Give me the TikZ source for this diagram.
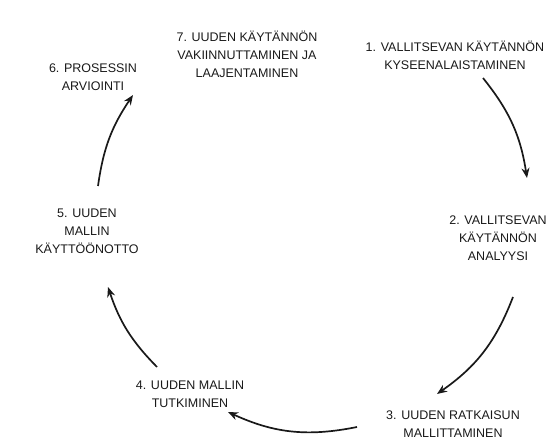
\documentclass[tikz,border=0pt]{standalone}
\usepackage{fontspec}
\setmainfont{Liberation Sans}
\usetikzlibrary{arrows.meta}
\colorlet{myink}{black!90}

\begin{document}
\begin{tikzpicture}[x=1pt,y=-1pt]
\useasboundingbox (0,0) rectangle (558,441);
\tikzset{StepStyle/.style={align=center,inner sep=0,text=myink,font=\fontsize{12.5}{18}\selectfont}}
\tikzset{CycleStyle/.style={color=myink,line width=1.7pt,-{Stealth[length=10pt,width=8pt]}}}
\node[StepStyle] (s1) at (455,55) {1. VALLITSEVAN KÄYTÄNNÖN\\KYSEENALAISTAMINEN};
\node[StepStyle] (s2) at (498,238) {2. VALLITSEVAN\\KÄYTÄNNÖN\\ANALYYSI};
\node[StepStyle] (s3) at (453,424) {3. UUDEN RATKAISUN\\MALLITTAMINEN};
\node[StepStyle] (s4) at (190,394) {4. UUDEN MALLIN\\TUTKIMINEN};
\node[StepStyle] (s5) at (87,231) {5. UUDEN\\MALLIN\\KÄYTTÖÖNOTTO};
\node[StepStyle] (s6) at (93,77) {6. PROSESSIN\\ARVIOINTI};
\node[StepStyle] (s7) at (247,54) {7. UUDEN KÄYTÄNNÖN\\VAKIINNUTTAMINEN JA\\LAAJENTAMINEN};
% arrow ends round the cycle
\coordinate (a1) at (483,78);
\coordinate (b1) at (527,178);
\coordinate (a2) at (513,297);
\coordinate (b2) at (437,394);
\coordinate (a3) at (357,427);
\coordinate (b3) at (228,412);
\coordinate (a4) at (157,367);
\coordinate (b4) at (108,287);
\coordinate (a5) at (98,186);
\coordinate (b5) at (133,95);
\draw[CycleStyle] (a1) to[bend left=15] (b1);
\draw[CycleStyle] (a2) to[bend left=17] (b2);
\draw[CycleStyle] (a3) to[bend left=18] (b3);
\draw[CycleStyle] (a4) to[bend left=13] (b4);
\draw[CycleStyle] (a5) to[bend left=13] (b5);
\end{tikzpicture}
\end{document}
